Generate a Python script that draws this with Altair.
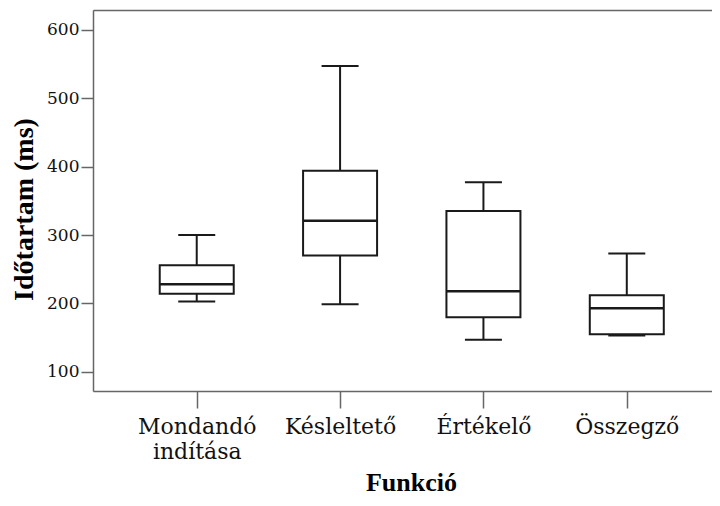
import altair as alt
import pandas as pd

categories = ["Mondandó indítása", "Késleltető", "Értékelő", "Összegző"]
lower = [203, 199, 147, 153]
q1 = [214, 270, 180, 155]
median = [228, 321, 218, 193]
q3 = [256, 394, 335, 212]
upper = [300, 547, 377, 273]

df = pd.DataFrame({"cat": categories, "lower": lower, "q1": q1,
                   "median": median, "q3": q3, "upper": upper})

LFONT = "DejaVu Serif"
TFONT = "Liberation Serif"
AX = "#666666"
LINE = "#1a1a1a"

xscale = alt.Scale(type="point", domain=categories, padding=0.659, align=0.549)
yscale = alt.Scale(domain=[72, 629], nice=False, zero=False)

bottom_axis = alt.Axis(
    title="Funkció", labelFont=LFONT, labelFontSize=22, labelColor="#111",
    labelExpr="split(datum.label, ' ')", labelLineHeight=25, labelAngle=0,
    labelPadding=8, tickSize=17, tickColor=AX, tickWidth=1.5,
    domainColor=AX, domainWidth=1.5, titleFont=TFONT, titleFontSize=26,
    titleFontWeight="bold", titleColor="#000", titlePadding=7,
    titleX=318, titleAlign="center", grid=False,
)
top_axis = alt.Axis(orient="top", labels=False, ticks=False, title=None,
                    domainColor=AX, domainWidth=1.5, grid=False)
y_axis = alt.Axis(
    title="Időtartam (ms)", values=[100, 200, 300, 400, 500, 600],
    labelFont=LFONT, labelFontSize=17, labelColor="#111", labelPadding=2,
    tickSize=12, tickColor=AX, tickWidth=1.5, domainColor=AX, domainWidth=1.5,
    titleFont=TFONT, titleFontSize=28, titleFontWeight="bold", titleColor="#000",
    titlePadding=8, titleY=199, grid=False,
)

base = alt.Chart(df)
Y = lambda f: alt.Y(f, scale=yscale, axis=y_axis)

whisker = base.mark_rule(color=LINE, strokeWidth=2, opacity=1).encode(
    x=alt.X("cat:N", scale=xscale, axis=top_axis, sort=categories),
    y=Y("lower:Q"),
    y2="upper:Q",
)
box = base.mark_bar(size=74, fill="white", stroke=LINE, strokeWidth=2,
                    opacity=1).encode(
    x=alt.X("cat:N", scale=xscale, axis=bottom_axis, sort=categories),
    y=Y("q1:Q"),
    y2="q3:Q",
)
med = base.mark_tick(size=74, thickness=2.5, color=LINE, opacity=1).encode(
    x=alt.X("cat:N", scale=xscale, axis=None, sort=categories),
    y=Y("median:Q"),
)
cap_lo = base.mark_tick(size=37, thickness=2, color=LINE, opacity=1).encode(
    x=alt.X("cat:N", scale=xscale, axis=None, sort=categories),
    y=Y("lower:Q"),
)
cap_hi = base.mark_tick(size=37, thickness=2, color=LINE, opacity=1).encode(
    x=alt.X("cat:N", scale=xscale, axis=None, sort=categories),
    y=Y("upper:Q"),
)

chart = alt.layer(whisker, box, med, cap_lo, cap_hi).resolve_axis(
    x="independent"
).properties(
    width=619, height=381, autosize="none",
    padding={"left": 85, "top": 2, "right": 0, "bottom": 107},
).configure_view(stroke=None).configure(background="white")

chart.save("out.html", embed_options={"renderer": "svg", "actions": False})
